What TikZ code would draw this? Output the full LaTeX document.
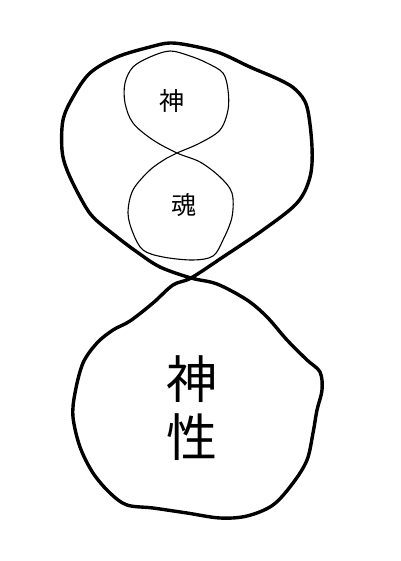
\documentclass[tikz,border=0pt]{standalone}
\usepackage{fontspec}
\newfontfamily\cjk{Noto Sans CJK JP}
\begin{document}
\begin{tikzpicture}[x=1pt,y=-1pt,
  thickloop/.style={line width=3.4pt,line join=round,smooth cycle,tension=0.55},
  thinloop/.style={line width=1.1pt,line join=round,smooth cycle,tension=0.55},
  smalltext/.style={font=\cjk\fontsize{25}{28}\selectfont,inner sep=0pt},
  bigtext/.style={font=\cjk\fontsize{51}{58}\selectfont,inner sep=0pt,align=center}]
\useasboundingbox (0,0) rectangle (400,561);
\fill[white] (0,0) rectangle (400,561);
% figure-eight outer curve
\draw[thickloop] plot coordinates {
 (191,278) (223,257) (263,230) (297,203) (310,177) (312,147) (307,107)
 (296,90) (280,80) (250,67) (220,53) (193,46) (170,43) (150,47) (117,57)
 (90,73) (73,97) (63,120) (62,150) (67,170) (80,197) (93,217) (117,237)
 (137,252) (160,267) (191,278) (217,284) (247,300) (267,317) (287,340)
 (307,360) (320,372) (322,390) (317,410) (313,433) (307,460) (293,483)
 (273,505) (247,516) (220,518) (187,513) (153,508) (127,505) (110,493)
 (93,473) (80,447) (73,417) (75,393) (83,363) (97,343) (113,330)
 (130,321) (153,303) (173,285)};
% inner figure-eight
\draw[thinloop] plot coordinates {
 (177,153) (200,143) (220,130) (228,110) (228,90) (223,73) (207,63)
 (190,56) (170,51) (150,57) (133,67) (125,83) (125,103) (133,123)
 (153,140) (177,153) (200,162) (220,177) (232,193) (232,217) (223,240)
 (213,256) (193,260) (163,257) (143,250) (133,233) (128,213) (133,190)
 (150,170) (167,158)};
\node[smalltext] (shen) at (172,101) {神};
\node[smalltext] (hun) at (184,205) {魂};
\node[bigtext] (shenxing) at (192,408) {神\\性};
\end{tikzpicture}
\end{document}
